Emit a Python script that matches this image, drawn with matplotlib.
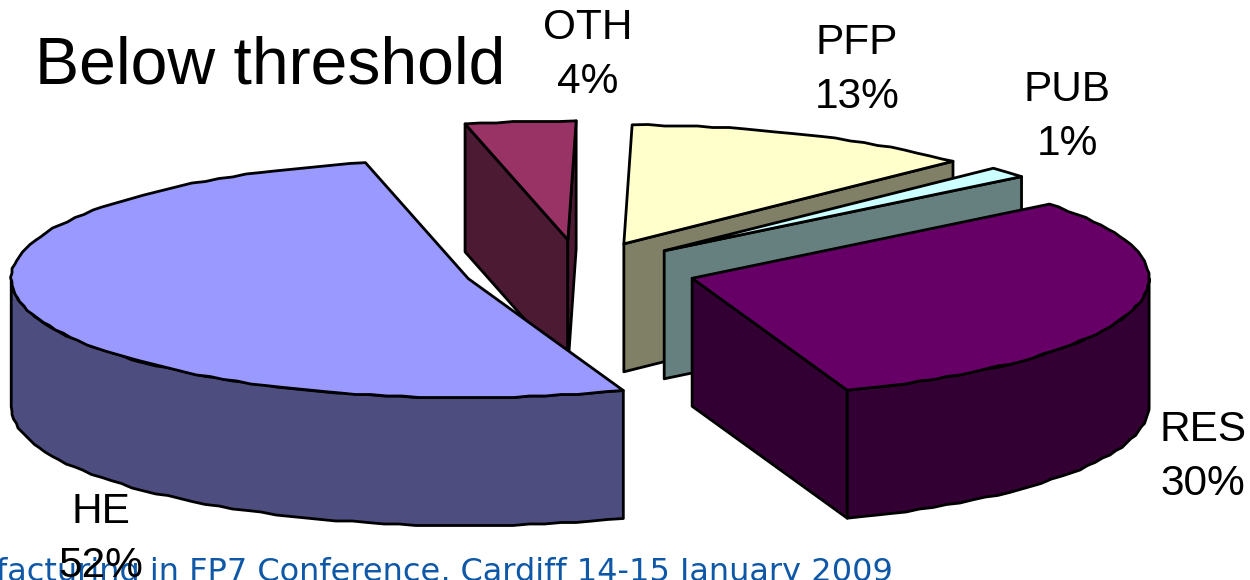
import numpy as np
import matplotlib
matplotlib.use("Agg")
import matplotlib.pyplot as plt
from matplotlib.patches import Polygon

# Data (clockwise order, starting at the OTH slice)
categories = ["OTH", "PFP", "PUB", "RES", "HE"]
shares = [3.9, 12.51, 1.49, 30.2, 51.9]   # printed rounded: 4, 13, 1, 30, 52
explode = [0.255, 0.24, 0.245, 0.255, 0.255]
top_colors = ["#993366", "#FFFFCC", "#CCFFFF", "#660066", "#9999FF"]
side_colors = ["#4D1A33", "#808066", "#668080", "#330033", "#4D4D80"]
draw_order = ["OTH", "HE", "PFP", "PUB", "RES"]
title_text = "Below threshold"
footer_text = "facturing in FP7 Conference, Cardiff 14-15 January 2009"

# Projection of the pie on the canvas (pixels)
CX, CY, RX, RY, DEPTH, START = 580, 270, 457, 119, 128, 347.0
LW = 2.0
GRID = 1.5

fig = plt.figure(figsize=(12.5, 5.8), dpi=100)
ax = fig.add_axes([0, 0, 1, 1])
ax.set_xlim(0, 1250)
ax.set_ylim(580, 0)
ax.axis("off")


def rim(t0, t1, cx, cy):
    n = max(int(abs(t1 - t0) / 2.0), 1)
    t = np.radians(np.linspace(t0, t1, n + 1))
    x = cx + RX * np.sin(t)
    y = cy - RY * np.cos(t)
    # the source chart's outline is a coarse, slightly stepped polyline
    x[1:-1] = np.round(x[1:-1] / GRID) * GRID
    y[1:-1] = np.round(y[1:-1] / GRID) * GRID
    return np.column_stack([x, y])


def wall(pts, color):
    down = pts + np.array([0, DEPTH])
    ax.add_patch(Polygon(np.vstack([pts, down[::-1]]), closed=True, fc=color,
                         ec="black", lw=LW, joinstyle="round"))


angles = np.cumsum([0] + shares) * 3.6 + START
slices = {}
for i, c in enumerate(categories):
    slices[c] = (angles[i], angles[i + 1], top_colors[i], side_colors[i], explode[i])

for c in draw_order:
    t0, t1, top, side, e = slices[c]
    mid = np.radians((t0 + t1) / 2)
    cx = CX + e * RX * np.sin(mid)
    cy = CY - e * RY * np.cos(mid)
    centre = np.array([[cx, cy]])
    arc = rim(t0, t1, cx, cy)
    # cut faces are visible only when they turn toward the viewer
    if arc[0, 0] < cx:
        wall(np.vstack([arc[0], centre]), side)
    if arc[-1, 0] > cx:
        wall(np.vstack([centre, arc[-1]]), side)
    # front part of the outer wall (angles may run past one full turn)
    for shift in (0, 360):
        a, b = max(t0, 90 + shift), min(t1, 270 + shift)
        if b > a:
            wall(rim(a, b, cx, cy), side)
    ax.add_patch(Polygon(np.vstack([centre, arc]), closed=True, fc=top,
                         ec="black", lw=LW, joinstyle="round"))

label_pos = {"OTH": (588, 55), "PFP": (857, 70), "PUB": (1067, 117),
             "RES": (1203, 457), "HE": (101, 539)}
for c, s in zip(categories, shares):
    x, y = label_pos[c]
    ax.text(x, y, f"{c}\n{round(s)}%", ha="center", va="center",
            family="Liberation Sans", fontsize=30.5, linespacing=1.47,
            color="black", zorder=6)
ax.text(35, 66, title_text, ha="left", va="center", family="Liberation Sans",
        fontsize=47.6, color="black", zorder=6)
ax.text(893, 581, footer_text, ha="right", va="baseline",
        family="DejaVu Sans", fontsize=23, color="#0F58A8", zorder=5)

fig.savefig("out.png", dpi=100)
